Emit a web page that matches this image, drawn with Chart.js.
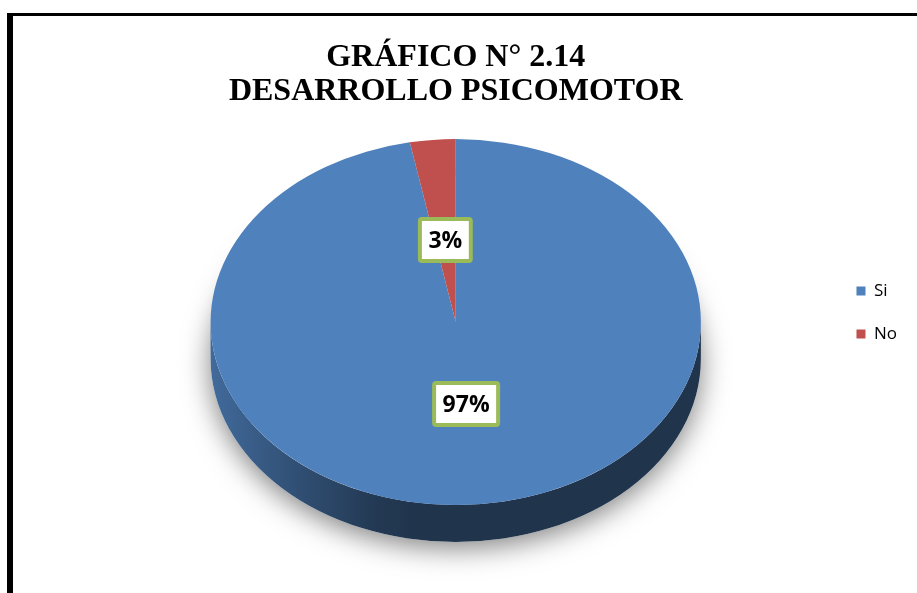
<!DOCTYPE html>
<html>
<head>
<meta charset="utf-8">
<script src="https://cdn.jsdelivr.net/npm/chart.js@4/dist/chart.umd.min.js"></script>
<style>
  html, body { margin: 0; padding: 0; background: #fff; overflow: hidden; }
  #marco { position: absolute; left: 7px; top: 13px; width: 930px; height: 600px; border-left: 6px solid #000; border-top: 3px solid #000; }
  #contenedor { position: absolute; left: 0; top: 0; width: 917px; height: 593px; }
</style>
</head>
<body>
<div id="marco"></div>
<div id="contenedor"><canvas id="chartdiv"></canvas></div>
<script>
var titulo = ['GRÁFICO N° 2.14', 'DESARROLLO PSICOMOTOR'];
var categorias = ['Si', 'No'];
var porcentajes = [97, 3];
var colores = ['#4f81bd', '#c0504d'];

var ESTIRA = 1.34;   // horizontal stretch -> ellipse
var GROSOR = 37;     // thickness of the pie side

function tono(hex, f) {
    var n = parseInt(hex.slice(1), 16);
    var r = Math.round(((n >> 16) & 255) * f);
    var g = Math.round(((n >> 8) & 255) * f);
    var b = Math.round((n & 255) * f);
    return 'rgb(' + r + ',' + g + ',' + b + ')';
}

// draws the pie as a tilted disc: shadow + side, then stretches the top face
var pie3d = {
    id: 'pie3d',
    beforeDatasetsDraw: function(chart) {
        var arcs = chart.getDatasetMeta(0).data;
        var ctx = chart.ctx;
        ctx.save();
        if (!arcs.length) return;
        var cx = arcs[0].x, cy = arcs[0].y, r = arcs[0].outerRadius;
        ctx.translate(cx, cy);
        ctx.scale(ESTIRA, 1);
        ctx.translate(-cx, -cy);

        ctx.save();
        ctx.shadowColor = 'rgba(0,0,0,0.5)';
        ctx.shadowBlur = 28;
        ctx.shadowOffsetY = 6;
        ctx.fillStyle = '#fff';
        ctx.beginPath();
        ctx.arc(cx, cy + GROSOR, r, 0, Math.PI * 2);
        ctx.fill();
        ctx.restore();

        arcs.forEach(function(arc, i) {
            var grad = ctx.createLinearGradient(cx - r, 0, cx - r * 0.15, 0);
            grad.addColorStop(0, tono(colores[i], 0.82));
            grad.addColorStop(0.4, tono(colores[i], 0.62));
            grad.addColorStop(0.8, tono(colores[i], 0.44));
            grad.addColorStop(1, tono(colores[i], 0.4));
            for (var k = -1; k <= 1; k++) {
                var lo = Math.max(arc.startAngle, 2 * Math.PI * k);
                var hi = Math.min(arc.endAngle, 2 * Math.PI * k + Math.PI);
                if (lo >= hi) continue;
                ctx.beginPath();
                ctx.arc(cx, cy, r, lo, hi);
                ctx.arc(cx, cy + GROSOR, r, hi, lo, true);
                ctx.closePath();
                ctx.fillStyle = grad;
                ctx.fill();
            }
        });
    },
    afterDatasetsDraw: function(chart) {
        chart.ctx.restore();
    }
};

// percentage labels in green framed boxes
var etiquetas = {
    id: 'etiquetas',
    afterDatasetsDraw: function(chart) {
        var arcs = chart.getDatasetMeta(0).data;
        var ctx = chart.ctx;
        var total = porcentajes.reduce(function(a, b) { return a + b; }, 0);
        ctx.save();
        ctx.font = 'bold 23px "Open Sans"';
        ctx.textAlign = 'center';
        ctx.textBaseline = 'middle';
        arcs.forEach(function(arc, i) {
            var txt = Math.round(porcentajes[i] / total * 100) + '%';
            var m = (arc.startAngle + arc.endAngle) / 2;
            var d = arc.outerRadius * 0.45;
            var x = arc.x + Math.cos(m) * d * ESTIRA;
            var y = arc.y + Math.sin(m) * d;
            var w = ctx.measureText(txt).width + 21, h = 46;
            ctx.fillStyle = '#fff';
            ctx.strokeStyle = '#9bbb59';
            ctx.lineWidth = 4;
            ctx.beginPath();
            ctx.roundRect(x - w / 2 + 2, y - h / 2 + 2, w - 4, h - 4, 2);
            ctx.fill();
            ctx.stroke();
            ctx.fillStyle = '#000';
            ctx.fillText(txt, x, y + 1);
        });
        ctx.restore();
    }
};

// title centred over the pie, legend moved down beside the pie centre
var ajuste = {
    id: 'ajuste',
    afterLayout: function(chart) {
        var a = chart.chartArea;
        var cx = (a.left + a.right) / 2;
        chart.titleBlock.left = cx - chart.width / 2;
        chart.titleBlock.right = cx + chart.width / 2;
        chart.legend.top += 60;
        chart.legend.bottom += 60;
    }
};

Chart.defaults.font.family = '"Open Sans", sans-serif';

var ctxgen = document.getElementById('chartdiv').getContext('2d');
var chartgen = new Chart(ctxgen, {
    type: 'pie',
    data: {
        labels: categorias,
        datasets: [{
            data: porcentajes,
            backgroundColor: colores,
            borderWidth: 0,
            hoverOffset: 0,
            clip: false
        }]
    },
    options: {
        responsive: true,
        maintainAspectRatio: false,
        animation: false,
        events: [],
        layout: {
            padding: { left: 81, right: 10, top: 0, bottom: 88 }
        },
        plugins: {
            title: {
                display: true,
                text: titulo,
                color: '#000',
                font: { family: '"Liberation Serif", "Times New Roman", serif', size: 32, weight: 'bold', lineHeight: 1.08 },
                padding: { top: 40, bottom: 30 }
            },
            legend: {
                position: 'right',
                labels: {
                    boxWidth: 9,
                    boxHeight: 9,
                    padding: 26,
                    color: '#000',
                    font: { size: 17 }
                }
            },
            tooltip: { enabled: false }
        }
    },
    plugins: [pie3d, etiquetas, ajuste]
});
</script>
</body>
</html>
